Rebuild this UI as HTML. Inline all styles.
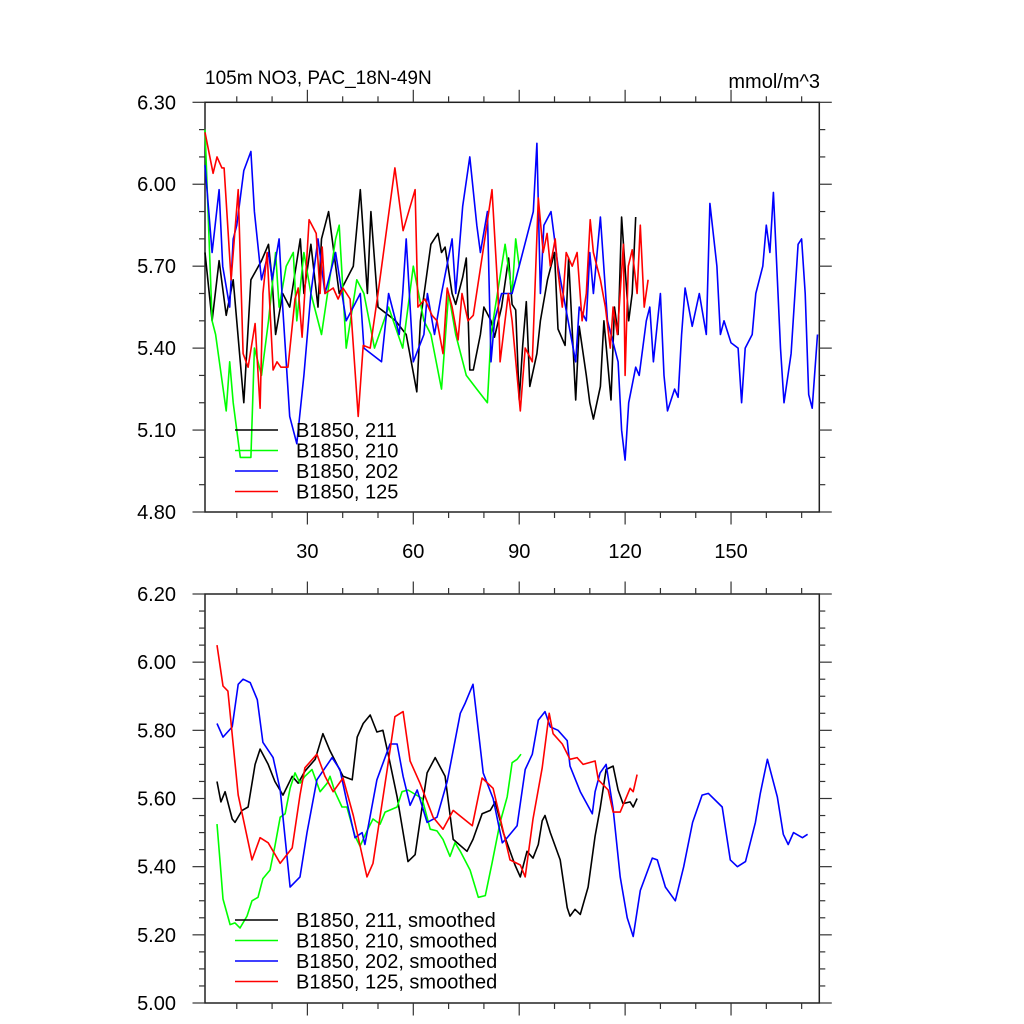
<!DOCTYPE html>
<html><head><meta charset="utf-8"><style>
html,body{margin:0;padding:0;background:#fff;}
svg{display:block;font-family:"Liberation Sans",Arial,sans-serif;}
</style></head>
<body>
<svg id="chart" width="1024" height="1024" viewBox="0 0 1024 1024" xmlns="http://www.w3.org/2000/svg">
<rect width="1024" height="1024" fill="#fff"/>
<text x="205" y="84" font-size="19">105m NO3, PAC_18N-49N</text>
<text x="820" y="88" font-size="20" text-anchor="end">mmol/m^3</text>
<g id="top"></g>
<g id="bot"></g>
</svg>
<script>
// ---------- data ----------
const xTickVals = [30,60,90,120,150];
const xTickLabels = ["30","60","90","120","150"];
const topYTicks = [4.8,5.1,5.4,5.7,6.0,6.3];
const topYLabels = ["4.80","5.10","5.40","5.70","6.00","6.30"];
const botYTicks = [5.0,5.2,5.4,5.6,5.8,6.0,6.2];
const botYLabels = ["5.00","5.20","5.40","5.60","5.80","6.00","6.20"];
const seriesNames = ["B1850, 211","B1850, 210","B1850, 202","B1850, 125"];
const seriesColors = ["#000000","#00ff00","#0000ff","#ff0000"];

const blackYears = [1,3,5,7,9,12,14,17,19,20,21,23,25,28,29,31,33,34,36,39,43,45,47,48,50,55,58,60,61,62,65,67,68,69,71,72,74,75,76,77,79,80,82,83,85,87,88,89,90,91,92,93,95,96,98,100,101,103,104,106,107,109,110,111,113,114,116,117,118,119,121,122,123];
const blackVals = [5.75,5.5,5.72,5.52,5.65,5.2,5.65,5.72,5.78,5.65,5.45,5.6,5.55,5.8,5.6,5.78,5.55,5.8,5.9,5.6,5.7,5.98,5.6,5.9,5.55,5.5,5.45,5.31,5.24,5.5,5.78,5.82,5.75,5.77,5.6,5.56,5.66,5.73,5.32,5.32,5.45,5.55,5.5,5.44,5.55,5.73,5.56,5.54,5.21,5.41,5.57,5.26,5.38,5.5,5.65,5.75,5.47,5.41,5.73,5.21,5.48,5.3,5.2,5.14,5.26,5.5,5.21,5.55,5.45,5.88,5.5,5.6,5.88];

const greenYears = [1,3,4,7,8,9,11,14,15,17,19,21,22,24,26,27,29,31,34,38,39,41,44,46,49,53,57,60,63,65,68,70,72,75,78,81,82,86,88,89,90];
const greenVals = [6.2,5.5,5.45,5.17,5.35,5.2,5.0,5.0,5.4,5.3,5.5,5.75,5.55,5.7,5.75,5.5,5.75,5.6,5.45,5.8,5.85,5.4,5.65,5.6,5.4,5.55,5.4,5.7,5.5,5.45,5.25,5.6,5.45,5.3,5.25,5.2,5.45,5.78,5.6,5.8,5.7];

const blueYears = [1,3,5,6,8,9,10,12,14,15,17,19,20,22,23,25,27,29,31,33,35,36,38,41,45,46,51,53,56,57,58,60,63,64,66,68,71,72,74,76,78,79,81,82,83,85,88,94,95,96,97,99,101,106,107,109,110,111,113,115,118,119,120,121,123,124,126,127,128,130,131,132,134,135,136,137,139,141,143,144,146,147,148,150,152,153,154,156,157,159,160,161,162,164,165,167,169,170,171,172,173,174.5];
const blueVals = [6.07,5.75,5.98,5.7,5.55,5.8,5.85,6.05,6.12,5.9,5.65,5.75,5.65,5.8,5.55,5.15,5.05,5.3,5.6,5.8,5.6,5.65,5.75,5.5,5.6,5.4,5.35,5.6,5.45,5.6,5.8,5.35,5.45,5.6,5.45,5.6,5.8,5.6,5.92,6.1,5.85,5.75,5.9,5.35,5.5,5.6,5.6,5.9,6.15,5.6,5.85,5.9,5.7,5.35,5.55,5.5,5.75,5.6,5.88,5.5,5.35,5.1,4.99,5.2,5.33,5.3,5.5,5.55,5.35,5.6,5.3,5.17,5.25,5.22,5.45,5.62,5.48,5.6,5.45,5.93,5.7,5.45,5.5,5.42,5.4,5.2,5.4,5.45,5.6,5.7,5.85,5.75,5.97,5.4,5.2,5.38,5.78,5.8,5.6,5.23,5.18,5.45];

const redYears = [1,3.3,4.4,5.8,6.4,8.4,10.4,11.8,13.2,15.2,16.6,17.4,18.6,20.3,21.4,22.5,24.5,26.5,27.4,28.5,30.5,32.5,33.6,34.2,35,37.3,38.7,40.1,42.1,44.4,45.8,47.8,50,54.8,57.1,60.5,61.3,63.3,65.3,66.7,68.4,69.6,71,72.7,73.8,75.5,77,79.8,82.3,84,84.6,86.9,88,90.3,91.7,93.7,95.4,96.8,97.9,98.8,100.2,101,102.2,103.3,105,106.4,107.8,109,110.1,111,113,114.4,115.8,116.6,117.8,119.5,120,120.9,122,123.4,124.3,125.4,126.5];
const redVals = [6.19,6.04,6.1,6.06,6.06,5.65,5.98,5.38,5.33,5.49,5.18,5.6,5.75,5.32,5.35,5.33,5.33,5.58,5.62,5.44,5.87,5.82,5.6,5.77,5.6,5.62,5.58,5.62,5.58,5.15,5.41,5.4,5.6,6.06,5.83,5.98,5.55,5.58,5.52,5.5,5.38,5.62,5.55,5.43,5.6,5.5,5.52,5.76,5.98,5.6,5.35,5.6,5.5,5.17,5.4,5.35,5.95,5.75,5.82,5.7,5.8,5.68,5.55,5.75,5.7,5.75,5.5,5.6,5.87,5.75,5.65,5.55,5.4,5.55,5.45,5.78,5.3,5.7,5.76,5.6,5.85,5.55,5.65];

const blackSmYears = [4.4,5.5,6.7,8.7,9.5,11.5,13.2,15.2,16.6,18.9,20.8,23.1,25.7,27.4,29.3,32.2,34.4,36.4,40.1,42.7,44.1,45.8,47.8,49.7,51.4,52.9,55.4,58.5,60.5,63.9,66.2,69,71.3,75.2,76.9,79.5,81.8,83.2,85.5,88.8,90.3,92.2,93.9,95.4,96.5,97.3,98.8,101.6,103.6,104.4,105.8,107.3,109.5,111.5,112.9,114.6,116.6,118,119.4,121.4,122.3,123.4];
const blackSmVals = [5.65,5.59,5.62,5.54,5.53,5.565,5.575,5.7,5.745,5.7,5.65,5.61,5.665,5.645,5.68,5.715,5.79,5.74,5.665,5.655,5.78,5.82,5.845,5.795,5.8,5.73,5.605,5.415,5.435,5.675,5.72,5.665,5.48,5.445,5.48,5.555,5.565,5.59,5.5,5.405,5.37,5.445,5.425,5.465,5.535,5.55,5.5,5.42,5.28,5.255,5.275,5.26,5.34,5.49,5.57,5.685,5.695,5.625,5.585,5.59,5.575,5.6];

const greenSmYears = [4.4,5.3,6.1,8.1,9.5,10.9,12.9,14.3,16,17.4,19.4,20.8,22.3,23.7,25.1,26.5,27.9,29.3,31.3,33.6,35.6,36.4,37.8,39.8,41.2,43.5,44.9,46.9,48.6,50.6,52,55.4,56.8,58.5,62.5,64.8,66.7,68.4,70.4,71.8,73.3,76.1,78.4,80.4,82.3,84.6,86.6,88,89.4,90.5];
const greenSmVals = [5.525,5.41,5.305,5.23,5.235,5.22,5.255,5.3,5.31,5.365,5.39,5.46,5.545,5.555,5.63,5.675,5.645,5.665,5.685,5.62,5.645,5.665,5.62,5.575,5.575,5.49,5.46,5.505,5.54,5.525,5.56,5.575,5.62,5.625,5.6,5.51,5.505,5.48,5.43,5.47,5.445,5.39,5.31,5.315,5.41,5.53,5.605,5.705,5.715,5.73];

const blueSmYears = [4.4,6.1,8.7,10.4,11.8,13.8,15.8,17.4,20.3,22.3,25.1,27.9,29.9,32.7,37,39.2,41.2,43.5,45.5,46.3,49.7,53.4,55.4,57.1,59.1,61.1,63.9,66.7,69.6,73.3,74.7,76.9,79.8,82.6,85.2,86.6,89.4,91.7,93.7,95.4,97.3,98.8,101,103.6,104.4,107.3,110.7,111.5,112.9,114.6,116.6,118.6,120.6,122.3,124.3,127.7,129.1,131.4,134.2,136.6,139.1,141.8,143.6,147.5,149.8,151.8,154.1,156.9,158.3,160.3,163.1,164.8,166.2,167.7,170.2,171.7];
const blueSmVals = [5.82,5.78,5.81,5.935,5.95,5.94,5.89,5.765,5.72,5.625,5.34,5.37,5.5,5.655,5.72,5.685,5.59,5.485,5.5,5.465,5.655,5.76,5.76,5.665,5.58,5.625,5.53,5.545,5.65,5.85,5.88,5.935,5.675,5.6,5.47,5.485,5.52,5.685,5.73,5.83,5.855,5.81,5.8,5.77,5.695,5.62,5.555,5.62,5.675,5.7,5.57,5.37,5.25,5.195,5.33,5.425,5.42,5.34,5.3,5.4,5.53,5.61,5.615,5.575,5.42,5.4,5.415,5.53,5.615,5.715,5.605,5.495,5.465,5.5,5.485,5.495];

const redSmYears = [4.4,6.1,7.5,10.4,14.3,16.6,18.9,22.3,25.7,27.9,29.3,32.7,35,37.3,40.1,43,46.9,48.6,52.6,54.8,57.1,59.1,61.9,65.6,68.4,71.3,76.7,79.5,82.6,87.4,90.3,91.7,93.9,96.5,98.5,99.6,102.2,104.4,106.4,108.1,111.5,112.4,115.2,116.6,118.6,121.4,122.3,123.4];
const redSmVals = [6.05,5.93,5.915,5.61,5.42,5.485,5.47,5.41,5.455,5.61,5.69,5.73,5.665,5.62,5.66,5.55,5.37,5.41,5.685,5.84,5.855,5.71,5.645,5.545,5.51,5.565,5.52,5.66,5.63,5.42,5.405,5.37,5.54,5.69,5.85,5.79,5.76,5.715,5.72,5.7,5.71,5.655,5.625,5.56,5.56,5.63,5.62,5.67];

// ---------- drawing ----------
const NS = "http://www.w3.org/2000/svg";
const X0 = 205, X1 = 819.3, XMIN = 1, XMAX = 175;
function xs(v){ return X0 + (v - XMIN) * (X1 - X0) / (XMAX - XMIN); }
function mk(tag, attrs, parent){
  const e = document.createElementNS(NS, tag);
  for (const k in attrs) e.setAttribute(k, attrs[k]);
  parent.appendChild(e); return e;
}
function panel(g, top, bot, ymin, ymax, yTicks, yLabels, minorStep, showX, series, names, legY){
  const ys = v => bot - (v - ymin) * (bot - top) / (ymax - ymin);
  const frame = mk('rect', {x:X0, y:top, width:X1-X0, height:bot-top, fill:'none', stroke:'#222', 'stroke-width':1.5}, g);
  
  
  const nMinor = Math.round((ymax - ymin) / minorStep);
  for (let i = 0; i <= nMinor; i++){
    const v = ymin + i * minorStep, y = ys(v);
    const major = yTicks.some(t => Math.abs(t - v) < 1e-6);
    const L = major ? 12.5 : 6;
    const t1 = mk('line', {x1:X0-L, x2:X0, y1:y, y2:y, stroke:'#333', 'stroke-width':1.2}, g);
    
    
    const t2 = mk('line', {x1:X1, x2:X1+L, y1:y, y2:y, stroke:'#333', 'stroke-width':1.2}, g);
    
    
  }
  yTicks.forEach((t, i) => {
    const lb = mk('text', {x:176, y:ys(t)+7, 'font-size':20, 'text-anchor':'end'}, g);
    lb.textContent = yLabels[i];
    
    
  });
  for (let v = 10; v <= 170; v += 10){
    const major = xTickVals.includes(v);
    const L = major ? 12.5 : 6, x = xs(v);
    const a = mk('line', {x1:x, x2:x, y1:bot, y2:bot+L, stroke:'#333', 'stroke-width':1.2}, g);
    
    
    const b = mk('line', {x1:x, x2:x, y1:top-L, y2:top, stroke:'#333', 'stroke-width':1.2}, g);
    
    
  }
  if (showX){
    xTickVals.forEach((v, i) => {
      const lb = mk('text', {x:xs(v), y:558, 'font-size':20, 'text-anchor':'middle'}, g);
      lb.textContent = xTickLabels[i];
      
      
    });
  }
  series.forEach((s, k) => {
    const n = Math.min(s[0].length, s[1].length);
    let d = '';
    for (let i = 0; i < n; i++) d += (i ? 'L' : 'M') + xs(s[0][i]).toFixed(1) + ',' + ys(s[1][i]).toFixed(1);
    const p = mk('path', {d:d, fill:'none', stroke:seriesColors[k], 'stroke-width':1.6, 'stroke-linejoin':'round'}, g);
    
    
  });
  names.forEach((nm, k) => {
    const y = legY + k * 20.5;
    const ln = mk('line', {x1:235, x2:278, y1:y, y2:y, stroke:seriesColors[k], 'stroke-width':1.6}, g);
    
    
    const tx = mk('text', {x:296, y:y+7, 'font-size':20}, g);
    tx.textContent = nm;
    
    
  });
}
panel(document.getElementById('top'), 102.3, 512, 4.8, 6.3, topYTicks, topYLabels, 0.1, true,
  [[blackYears,blackVals],[greenYears,greenVals],[blueYears,blueVals],[redYears,redVals]],
  seriesNames, 430);
panel(document.getElementById('bot'), 594, 1003, 5.0, 6.2, botYTicks, botYLabels, 0.05, false,
  [[blackSmYears,blackSmVals],[greenSmYears,greenSmVals],[blueSmYears,blueSmVals],[redSmYears,redSmVals]],
  seriesNames.map(s => s + ", smoothed"), 920);
</script>
</body></html>
